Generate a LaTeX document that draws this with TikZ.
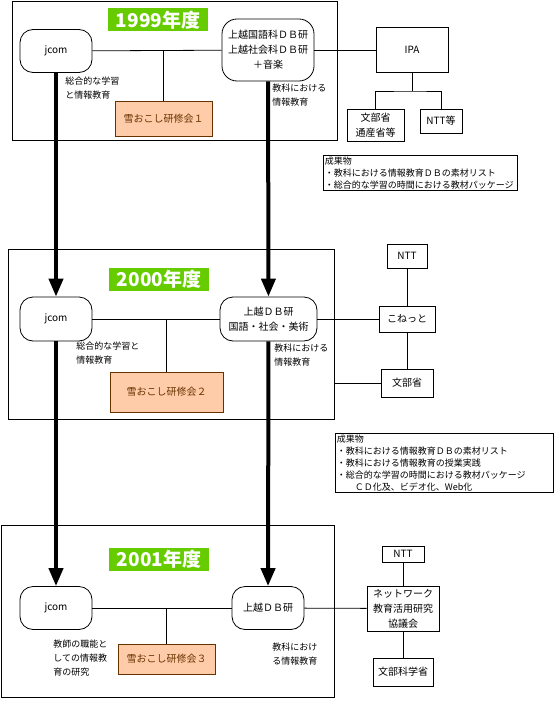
\documentclass[tikz,border=0pt]{standalone}
\usepackage{fontspec}
\setmainfont{Noto Sans CJK JP}
\usetikzlibrary{arrows.meta}
\definecolor{yeargreen}{RGB}{102,204,0}
\definecolor{semfill}{RGB}{255,204,170}
\definecolor{semline}{RGB}{102,51,0}
\begin{document}
\begin{tikzpicture}[x=1pt, y=-1pt, line width=0.8pt,
  yearlabel/.style={fill=yeargreen, text=white, inner sep=0pt, minimum width=100pt, minimum height=23pt, font=\fontsize{19}{19}\selectfont\bfseries},
  roundbox/.style={draw, rounded corners=13pt, align=center, inner sep=0pt, font=\fontsize{10}{15}\selectfont},
  plainbox/.style={draw, align=center, inner sep=0pt, font=\fontsize{10}{15}\selectfont},
  seminar/.style={draw=semline, fill=semfill, text=semline, inner sep=0pt, font=\fontsize{10}{12}\selectfont},
  note/.style={anchor=north west, align=left, inner sep=0pt, font=\fontsize{9}{14}\selectfont},
  resultbox/.style={draw, anchor=north west, align=left, inner sep=1.5pt, font=\fontsize{9}{12}\selectfont},
  bigarrow/.style={line width=4pt, -{Triangle[width=14pt,length=18pt]}}]
\useasboundingbox (0,0) rectangle (554,701);

\draw (12,1) rectangle (337,140); % frame 1999
\draw (8,249) rectangle (334,419); % frame 2000
\draw (1,525) rectangle (334,697); % frame 2001

% 1999
\node[yearlabel] (year1) at (158,20) {1999年度}; % year label
\node[roundbox, minimum width=72pt, minimum height=43pt] (jcom1) at (56,51) {jcom}; % jcom
\node[roundbox, rounded corners=15pt, minimum width=92pt, minimum height=62pt] (jdb1) at (268,50) {上越国語科ＤＢ研\\上越社会科ＤＢ研\\＋音楽}; % DB group
\node[seminar, minimum width=97pt, minimum height=35pt] (sem1) at (163.5,118.5) {雪おこし研修会１}; % seminar 1
\node[plainbox, minimum width=72pt, minimum height=45pt] (ipa) at (412,50) {IPA}; % IPA
\node[plainbox, minimum width=57pt, minimum height=32pt] (mext1) at (375.5,125) {文部省\\通産省等}; % ministries
\node[plainbox, minimum width=42pt, minimum height=24pt] (ntt1) at (441,121) {NTT等}; % NTT
\coordinate (ipabus) at (412,91); % branch point under IPA
\node[note] (lab1a) at (65,76) {総合的な学習\\と情報教育}; % jcom's theme
\node[note] (lab1b) at (272,84) {教科における\\情報教育}; % DB's theme
\node[resultbox, text width=191pt] (result1) at (323,155) {成果物\\・教科における情報教育ＤＢの素材リスト\\・総合的な学習の時間における教材パッケージ}; % results 1

\draw (jcom1) -- (jdb1); % jcom -- DB
\draw (sem1.north) -- (sem1.north |- jcom1); % seminar link
\draw (jdb1) -- (ipa); % DB -- IPA
\draw (ipa.south) -- (ipabus); % IPA stem
\draw (mext1.north) |- (ipabus) -| (ntt1.north); % IPA branches

% 2000
\node[yearlabel] (year2) at (159,279) {2000年度}; % year label
\node[roundbox, minimum width=72pt, minimum height=44pt] (jcom2) at (56,319) {jcom}; % jcom
\node[roundbox, minimum width=97pt, minimum height=44pt] (jdb2) at (268.5,319) {上越ＤＢ研\\国語・社会・美術}; % DB group
\node[seminar, minimum width=113pt, minimum height=40pt] (sem2) at (166.5,392) {雪おこし研修会２}; % seminar 2
\node[plainbox, minimum width=40pt, minimum height=24pt] (ntt2) at (407,256) {NTT}; % NTT
\node[plainbox, minimum width=56pt, minimum height=26pt] (konet) at (407,319) {こねっと}; % konet
\node[plainbox, minimum width=52pt, minimum height=28pt] (mext2) at (407,383) {文部省}; % ministry
\coordinate (f2r) at (334,383); % frame edge
\node[note] (lab2a) at (76,341) {総合的な学習と\\情報教育}; % jcom's theme
\node[note] (lab2b) at (274,344) {教科における\\情報教育}; % DB's theme
\node[resultbox, text width=215pt] (result2) at (335,433) {成果物\\・教科における情報教育ＤＢの素材リスト\\・教科における情報教育の授業実践\\・総合的な学習の時間における教材パッケージ\\\hspace*{2em}ＣＤ化及、ビデオ化、Web化}; % results 2

\draw (jcom2) -- (jdb2); % jcom -- DB
\draw (sem2.north) -- (sem2.north |- jcom2); % seminar link
\draw (jdb2) -- (konet); % DB -- konet
\draw (ntt2) -- (konet); % NTT -- konet
\draw (konet) -- (mext2); % konet -- ministry
\draw (f2r) -- (mext2); % frame -- ministry

% 2001
\node[yearlabel] (year3) at (159,559) {2001年度}; % year label
\node[roundbox, minimum width=72pt, minimum height=43pt] (jcom3) at (56,608) {jcom}; % jcom
\node[roundbox, minimum width=72pt, minimum height=43pt] (jdb3) at (268,608) {上越ＤＢ研}; % DB group
\node[seminar, minimum width=97pt, minimum height=30pt] (sem3) at (166.5,659) {雪おこし研修会３}; % seminar 3
\node[plainbox, minimum width=42pt, minimum height=16pt] (ntt3) at (403,554) {NTT}; % NTT
\node[plainbox, minimum width=72pt, minimum height=45pt] (netw) at (403,608.5) {ネットワーク\\教育活用研究\\協議会}; % network council
\node[plainbox, minimum width=60pt, minimum height=28pt] (mext3) at (403,672) {文部科学省}; % ministry
\node[note] (lab3a) at (53,640) {教師の職能と\\しての情報教\\育の研究}; % jcom's theme
\node[note] (lab3b) at (272,643) {教科におけ\\る情報教育}; % DB's theme

\draw (jcom3) -- (jdb3); % jcom -- DB
\draw (sem3.north) -- (sem3.north |- jcom3); % seminar link
\draw (jdb3) -- (netw); % DB -- council
\draw (ntt3) -- (netw); % NTT -- council
\draw (netw) -- (mext3); % council -- ministry

% year to year
\draw[bigarrow] (jcom1) -- (jcom2); % jcom 1999 -> 2000
\draw[bigarrow] (jdb1) -- (jdb2); % DB 1999 -> 2000
\draw[bigarrow] (jcom2) -- (jcom3); % jcom 2000 -> 2001
\draw[bigarrow] (jdb2) -- (jdb3); % DB 2000 -> 2001

\end{tikzpicture}
\end{document}
